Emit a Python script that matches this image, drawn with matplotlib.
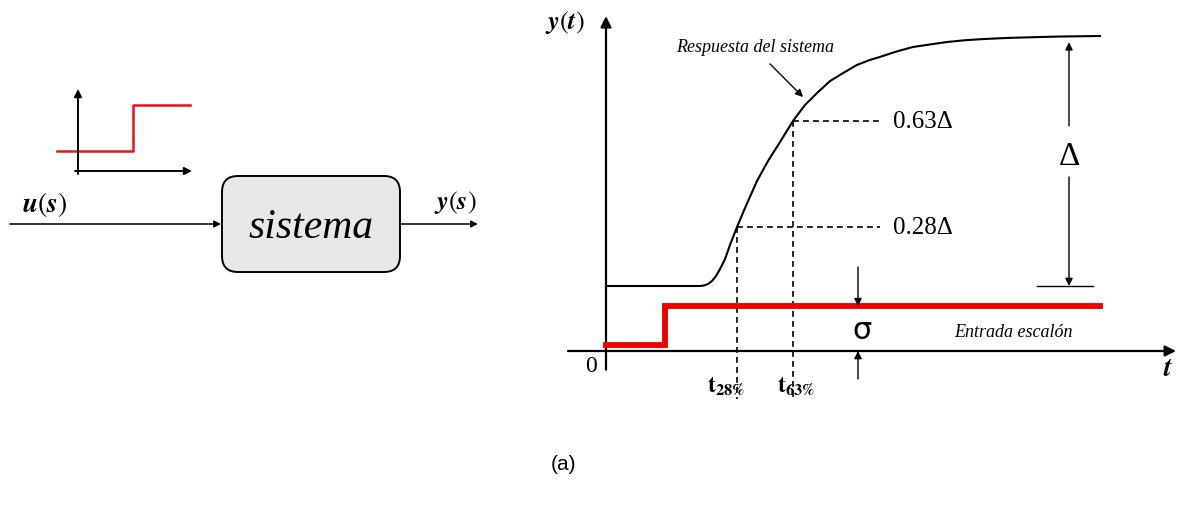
import matplotlib
matplotlib.use("Agg")
import matplotlib.pyplot as plt
from matplotlib.patches import FancyBboxPatch

plt.rcParams['font.family'] = ['Liberation Serif', 'DejaVu Serif']
plt.rcParams['mathtext.fontset'] = 'stix'

# system response y(t) (t in s, y normalised so delta = 1)
t_resp = [0, 1.88, 1.96, 2.04, 2.12, 2.20, 2.28, 2.38, 2.48, 2.62, 2.78, 3.02, 3.24, 3.48, 3.74,
          3.98, 4.22, 4.48, 4.74, 5.02, 5.28, 5.48, 5.78, 6.14, 6.48, 6.82, 7.18, 7.48, 7.88, 8.14,
          9.08, 9.88]
y_resp = [0.261, 0.261, 0.263, 0.269, 0.281, 0.301, 0.329, 0.369, 0.426, 0.498, 0.574, 0.683, 0.763, 0.839, 0.924,
          0.988, 1.036, 1.084, 1.116, 1.149, 1.169, 1.181, 1.201, 1.221, 1.231, 1.241, 1.248, 1.252, 1.256, 1.258,
          1.263, 1.265]

# step input
t_step = [0, 1.18, 1.18, 9.88]
u_step = [0.024, 0.024, 0.18, 0.18]

# characteristic points
t28, y28 = 2.62, 0.498
t63, y63 = 3.74, 0.924
y_start, y_end = 0.261, 1.265

# small step sketch of the block diagram (pixel units of the left panel)
mini_x = [57, 133, 133, 190]
mini_y = [152, 152, 106, 106]

fig = plt.figure(figsize=(11.82, 5.10), dpi=100)

# ---------------- left: block diagram ----------------
axl = fig.add_axes([0, 0, 540 / 1182, 1])
axl.set_xlim(0, 540)
axl.set_ylim(510, 0)
axl.axis('off')

arr = dict(arrowstyle='-|>', color='black', lw=1.4, mutation_scale=11, shrinkA=0, shrinkB=0)
axl.annotate('', xy=(78, 90), xytext=(78, 175), arrowprops=arr)
axl.annotate('', xy=(192, 172), xytext=(75, 172), arrowprops=arr)
axl.plot(mini_x, mini_y, color='#e8141c', lw=1.8)

box = FancyBboxPatch((222, 177), 178, 96, boxstyle='round,pad=0,rounding_size=16',
                     facecolor='#e8e8e8', edgecolor='black', lw=1.4)
axl.add_patch(box)
axl.text(311, 228, 'sistema', fontsize=30, style='italic', ha='center', va='center')

arr2 = dict(arrowstyle='-|>', color='black', lw=1.1, mutation_scale=10, shrinkA=0, shrinkB=0)
axl.annotate('', xy=(221, 225), xytext=(10, 225), arrowprops=arr2)
axl.annotate('', xy=(478, 225), xytext=(401, 225), arrowprops=arr2)
axl.text(45, 205, r'$\boldsymbol{u}(\boldsymbol{s})$', fontsize=20, ha='center', va='center')
axl.text(455, 203, r'$\boldsymbol{y}(\boldsymbol{s})$', fontsize=19, ha='center', va='center')

# ---------------- right: step response ----------------
x0, y0 = 560, 420
ax = fig.add_axes([x0 / 1182, (510 - y0) / 510, (1182 - x0) / 1182, y0 / 510])
ax.set_xlim((x0 - 606) / 50, (1182 - 606) / 50)
ax.set_ylim((352 - y0) / 249, 352 / 249)
ax.axis('off')

axarr = dict(arrowstyle='-|>', color='black', lw=1.6, mutation_scale=16, shrinkA=0, shrinkB=0)
ax.annotate('', xy=(0, 1.345), xytext=(0, -0.075), arrowprops=axarr)
ax.annotate('', xy=(11.4, 0), xytext=(-0.76, 0), arrowprops=axarr)

ax.plot(t_step, u_step, color='#ee0000', lw=4.2, solid_joinstyle='miter', zorder=3)
ax.plot(t_resp, y_resp, color='black', lw=1.5, zorder=4, solid_joinstyle='round')

dash = dict(color='black', lw=1.2, ls=(0, (3.5, 2.5)))
ax.plot([t28, 5.48], [y28, y28], **dash)
ax.plot([t63, 5.48], [y63, y63], **dash)
ax.plot([t28, t28], [y28, -0.193], **dash)
ax.plot([t63, t63], [y63, -0.193], **dash)

ax.text(5.74, y63, '0.63Δ', fontsize=18, ha='left', va='center')
ax.text(5.74, y28, '0.28Δ', fontsize=18, ha='left', va='center')

# delta dimension
td = 9.26
sm = dict(arrowstyle='-|>', color='black', lw=1.0, mutation_scale=11, shrinkA=0, shrinkB=0)
ax.annotate('', xy=(td, 1.24), xytext=(td, 0.904), arrowprops=sm)
ax.annotate('', xy=(td, y_start), xytext=(td, 0.699), arrowprops=sm)
ax.plot([8.62, 9.74], [y_start, y_start], color='black', lw=1.0)
ax.text(td, 0.783, 'Δ', fontsize=24, ha='center', va='center')

# sigma dimension
ts = 5.04
ax.annotate('', xy=(ts, 0.18), xytext=(ts, 0.337), arrowprops=sm)
ax.annotate('', xy=(ts, 0), xytext=(ts, -0.112), arrowprops=sm)
ax.text(ts + 0.08, 0.085, 'σ', fontsize=22, ha='center', va='center', family='DejaVu Sans')

ax.annotate('', xy=(3.94, 1.02), xytext=(3.28, 1.153), arrowprops=sm)
ax.text(2.98, 1.221, 'Respuesta del sistema', fontsize=13, style='italic', ha='center', va='center')
ax.text(8.14, 0.08, 'Entrada escalón', fontsize=13, style='italic', ha='center', va='center')

ax.text(-0.3, -0.06, '0', fontsize=17, ha='center', va='center')
ax.text(-0.82, 1.325, r'$\boldsymbol{y}(\boldsymbol{t})$', fontsize=19, ha='center', va='center')
ax.text(11.24, -0.072, r'$\boldsymbol{t}$', fontsize=20, ha='center', va='center')
ax.text(2.40, -0.14, r'$\mathbf{t}_{\mathbf{28\%}}$', fontsize=17, ha='center', va='center')
ax.text(3.80, -0.14, r'$\mathbf{t}_{\mathbf{63\%}}$', fontsize=17, ha='center', va='center')

fig.text(563 / 1182, 1 - 465 / 510, '(a)', fontsize=15, family='Liberation Sans', ha='center', va='center')

fig.savefig('out.png', dpi=100)
